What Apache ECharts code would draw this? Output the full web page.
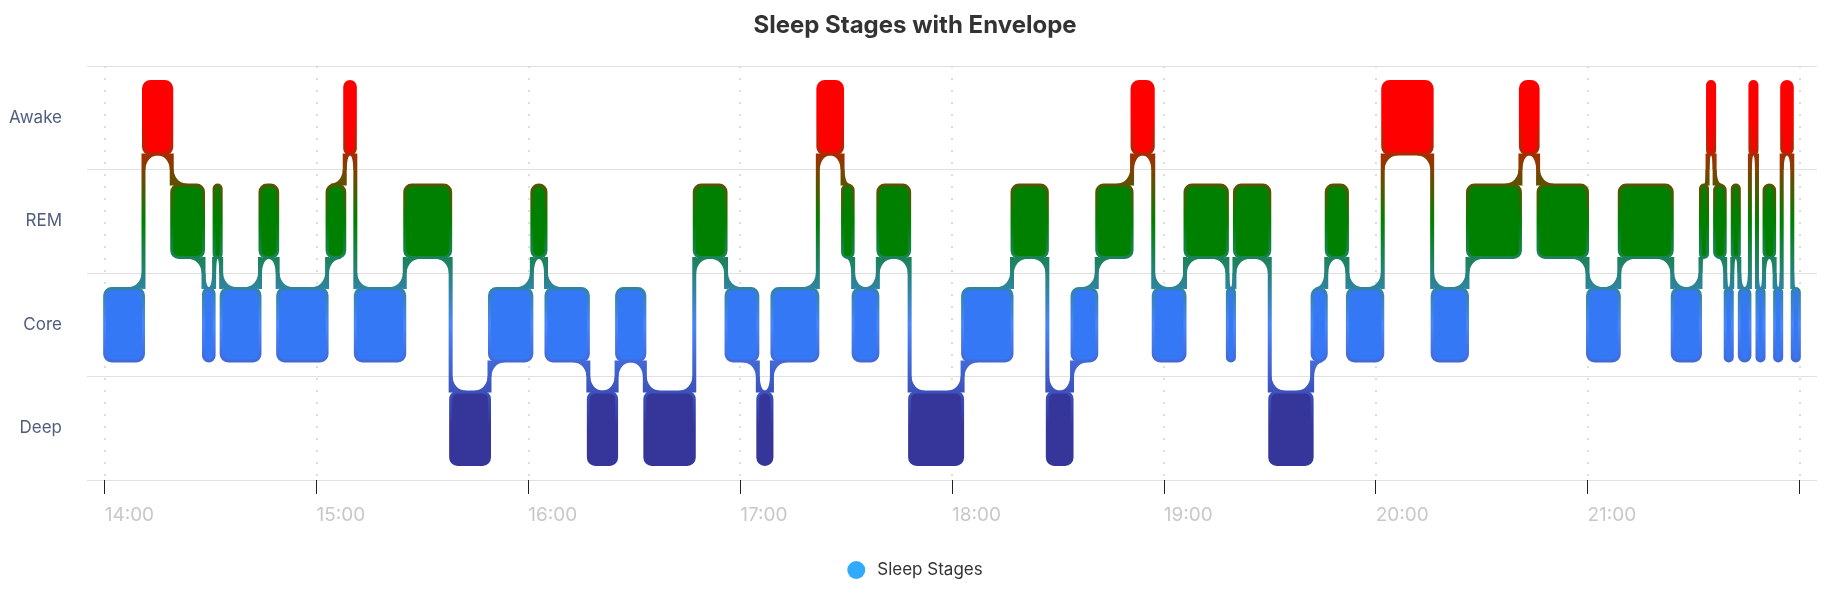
<!DOCTYPE html>
<html>
<head>
<meta charset="utf-8">
<title>Sleep Stages with Envelope</title>
<script src="https://cdn.jsdelivr.net/npm/echarts@6/dist/echarts.min.js"></script>
<style>
  html, body { margin: 0; padding: 0; background: #fff; }
  #main { width: 1830px; height: 594px; }
</style>
</head>
<body>
<div id="main"></div>
<script>
// y categories, bottom to top
var stageNames = ['Deep', 'Core', 'REM', 'Awake'];
var stageColors = ['#35359a', '#3478f6', '#008000', '#ff0000'];
var envelopeColors = ['#35359a', '#4a86f8', '#008000', '#ff0000'];

// each segment runs from its start to the next start (last one to endTime)
var segStages = [
  'Core', 'Awake', 'REM', 'Core', 'REM', 'Core', 'REM', 'Core', 'REM', 'Awake',
  'Core', 'REM', 'Deep', 'Core', 'REM', 'Core', 'Deep', 'Core', 'Deep', 'REM',
  'Core', 'Deep', 'Core', 'Awake', 'REM', 'Core', 'REM', 'Deep', 'Core', 'REM',
  'Deep', 'Core', 'REM', 'Awake', 'Core', 'REM', 'Core', 'REM', 'Deep', 'Core',
  'REM', 'Core', 'Awake', 'Core', 'REM', 'Awake', 'REM', 'Core', 'REM', 'Core',
  'REM', 'Awake', 'REM', 'Core', 'REM', 'Core', 'Awake', 'Core', 'REM', 'Core',
  'Awake', 'Core'
];
var segStarts = [
  '14:00', '14:11', '14:19', '14:28', '14:31', '14:33', '14:44', '14:49', '15:03', '15:08',
  '15:11', '15:25', '15:38', '15:49', '16:01', '16:05', '16:17', '16:25', '16:33', '16:47',
  '16:56', '17:05', '17:09', '17:22', '17:29', '17:32', '17:39', '17:48', '18:03', '18:17',
  '18:27', '18:34', '18:41', '18:51', '18:57', '19:06', '19:18', '19:20', '19:30', '19:42',
  '19:46', '19:52', '20:02', '20:16', '20:26', '20:41', '20:46', '21:00', '21:09', '21:24',
  '21:32', '21:34', '21:36', '21:39', '21:41', '21:43', '21:46', '21:48', '21:50', '21:53',
  '21:55', '21:58'
];
var endTime = '22:00';
var axisStart = '13:55';
var axisEnd = '22:05';
// hourly ticks; the last one has no label
var tickTimes = ['14:00', '15:00', '16:00', '17:00', '18:00', '19:00', '20:00', '21:00', '22:00'];
var labelTimes = ['14:00', '15:00', '16:00', '17:00', '18:00', '19:00', '20:00', '21:00'];

// minutes since midnight
function ts(hm) {
  var p = hm.split(':');
  return (+p[0]) * 60 + (+p[1]);
}
function hhmm(val) {
  var h = Math.floor(val / 60), m = Math.round(val % 60);
  return (h < 10 ? '0' : '') + h + ':' + (m < 10 ? '0' : '') + m;
}

var segments = [];
for (var i = 0; i < segStages.length; i++) {
  segments.push({
    start: ts(segStarts[i]),
    end: ts(i + 1 < segStarts.length ? segStarts[i + 1] : endTime),
    stage: stageNames.indexOf(segStages[i])
  });
}

var blockData = segments.map(function (s) { return [s.start, s.end, s.stage]; });
var transitionData = [];
for (var i = 0; i < segments.length - 1; i++) {
  transitionData.push([segments[i + 1].start, segments[i].stage, i]);
}

var BLOCK_RATIO = 0.7;  // block height vs band height
var STROKE = 3;
var CONN_W = 4;
var FILLET_RX = 13;

function envGradient(api) {
  var yTop = api.coord([ts(axisStart), 3])[1];
  var yBot = api.coord([ts(axisStart), 0])[1];
  return new echarts.graphic.LinearGradient(0, yTop, 0, yBot, [
    { offset: 0, color: envelopeColors[3] },
    { offset: 1 / 3, color: envelopeColors[2] },
    { offset: 2 / 3, color: envelopeColors[1] },
    { offset: 1, color: envelopeColors[0] }
  ], true);
}

function fillet(cx, cy, dx, dy, rx, ry, fill) {
  var pts = [[cx - dx * 1, cy - dy * 1.5], [cx - dx * 1, cy + dy * ry]];
  var n = 12;
  for (var k = 0; k <= n; k++) {
    var th = k / n * Math.PI / 2;
    pts.push([cx + dx * rx - dx * rx * Math.cos(th), cy + dy * ry - dy * ry * Math.sin(th)]);
  }
  pts.push([cx + dx * rx, cy - dy * 1.5]);
  return { type: 'polygon', shape: { points: pts }, style: { fill: fill } };
}

function renderEnvelope(params, api) {
  var i = api.value(2);
  var a = segments[i], b = segments[i + 1];
  var prev = segments[i - 1], next = segments[i + 2];
  var bandH = api.size([0, 1])[1];
  var bh = bandH * BLOCK_RATIO + STROKE;
  var gap = (bandH - bh) / 2;
  var xt = api.coord([b.start, 0])[0];
  var ya = api.coord([b.start, a.stage])[1];
  var yb = api.coord([b.start, b.stage])[1];
  var up = b.stage > a.stage;
  var aEdge = up ? ya - bh / 2 : ya + bh / 2;
  var bEdge = up ? yb + bh / 2 : yb - bh / 2;
  var fill = envGradient(api);
  var hw = CONN_W / 2;
  var children = [];

  var y0 = Math.min(aEdge, bEdge) - 2;
  var y1 = Math.max(aEdge, bEdge) + 2;
  children.push({ type: 'rect', shape: { x: xt - hw, y: y0, width: CONN_W, height: y1 - y0 }, style: { fill: fill } });

  // fillet on the leaving block
  var xaStart = api.coord([a.start, 0])[0];
  var shareA = prev && (up ? prev.stage > a.stage : prev.stage < a.stage);
  var availA = shareA ? (xt - xaStart - CONN_W) / 2 : (xt - hw) - xaStart - 4;
  var rxA = Math.min(FILLET_RX, availA);
  var dyA = up ? -1 : 1;
  if (rxA > 0.5) children.push(fillet(xt - hw, aEdge, -1, dyA, rxA, gap, fill));

  // fillet on the entering block
  var xbEnd = api.coord([b.end, 0])[0];
  var shareB = next && (up ? next.stage < b.stage : next.stage > b.stage);
  var availB = shareB ? (xbEnd - xt - CONN_W) / 2 : xbEnd - (xt + hw) - 4;
  var rxB = Math.min(FILLET_RX, availB);
  if (rxB > 0.5) children.push(fillet(xt + hw, bEdge, 1, -dyA, rxB, gap, fill));

  return { type: 'group', children: children };
}

function renderBlock(params, api) {
  var s = api.value(2);
  var p0 = api.coord([api.value(0), s]);
  var p1 = api.coord([api.value(1), s]);
  var bandH = api.size([0, 1])[1];
  var h = bandH * BLOCK_RATIO;
  return {
    type: 'rect',
    shape: { x: p0[0], y: p0[1] - h / 2, width: p1[0] - p0[0], height: h, r: 7 },
    style: { fill: stageColors[s], stroke: envGradient(api), lineWidth: STROKE }
  };
}

var myChart = echarts.init(document.getElementById('main'));
var option = {
  animation: false,
  title: {
    text: 'Sleep Stages with Envelope',
    left: 'center',
    top: 9,
    textStyle: { fontSize: 24, fontWeight: 'bold', color: '#333', fontFamily: 'Inter' }
  },
  legend: {
    data: ['Sleep Stages'],
    bottom: 10,
    left: 'center',
    icon: 'circle',
    itemWidth: 32,
    itemHeight: 18,
    textStyle: { fontSize: 17, color: '#333', fontFamily: 'Inter' }
  },
  grid: { left: 87, right: 13, top: 66, bottom: 114 },
  xAxis: {
    type: 'value',
    min: ts(axisStart),
    max: ts(axisEnd),
    axisLine: { lineStyle: { color: '#000', width: 1.5 } },
    axisTick: { show: true, length: 14, lineStyle: { color: '#222' }, customValues: tickTimes.map(ts) },
    axisLabel: {
      fontSize: 19,
      color: '#c8c8c8',
      margin: 26,
      align: 'left',
      fontFamily: 'Inter',
      customValues: labelTimes.map(ts),
      formatter: hhmm
    },
    splitLine: { show: true, lineStyle: { color: '#dddddd', width: 2, type: [2, 10] } }
  },
  yAxis: {
    type: 'category',
    data: stageNames,
    axisLine: { show: false },
    axisTick: { show: false },
    axisLabel: { fontSize: 17, color: '#505d7c', margin: 25, fontFamily: 'Inter' },
    splitLine: { show: true, lineStyle: { color: '#e0e0e0', width: 1 } }
  },
  series: [
    {
      name: 'Envelope',
      type: 'custom',
      renderItem: renderEnvelope,
      encode: { x: 0, y: 1 },
      data: transitionData,
      silent: true
    },
    {
      name: 'Sleep Stages',
      type: 'custom',
      renderItem: renderBlock,
      itemStyle: { color: '#30a9ff' },
      encode: { x: [0, 1], y: 2 },
      data: blockData
    }
  ]
};
myChart.setOption(option);
window.addEventListener('resize', function () { myChart.resize(); });
</script>
</body>
</html>
